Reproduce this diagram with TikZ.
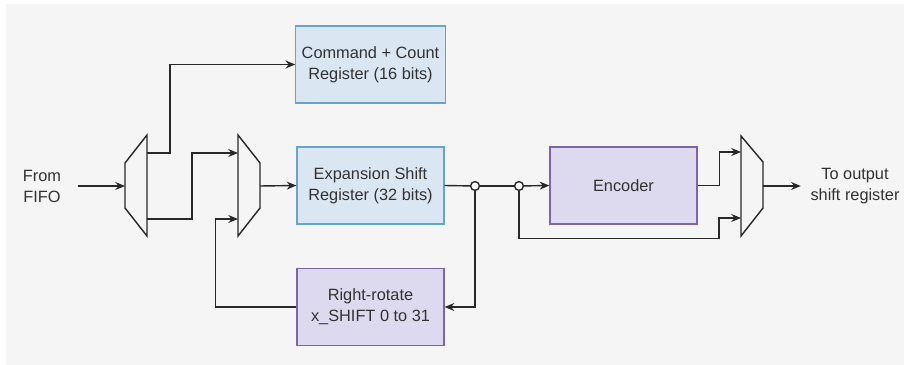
\documentclass[tikz,border=0pt]{standalone}
\usepackage{fontspec}
\setmainfont{Liberation Sans}
\usetikzlibrary{arrows.meta, positioning}
\definecolor{mybg}{RGB}{245,245,245}
\definecolor{mydark}{RGB}{40,40,40}
\definecolor{mytext}{RGB}{50,50,50}
\definecolor{myblue}{RGB}{96,166,208}
\definecolor{hdrblue}{RGB}{219,230,243}
\definecolor{mypurple}{RGB}{124,100,176}
\definecolor{hdrpurple}{RGB}{221,217,238}
\tikzset{
  block/.style={rectangle, draw=myblue, fill=hdrblue,
    minimum width=2.94cm, minimum height=1.54cm, align=center,
    font=\fontsize{9.3}{12}\selectfont, text=mytext, line width=0.7pt},
  purpleblock/.style={block, draw=mypurple, fill=hdrpurple},
  lbl/.style={align=center, font=\fontsize{9.3}{12}\selectfont, text=mytext},
  muxshape/.style={draw=mydark, fill=mybg, line width=0.8pt},
  junc/.style={circle, draw=mydark, fill=white, inner sep=0pt,
    minimum size=5pt, line width=0.8pt},
  arrow/.style={-{Stealth[length=5.5pt,width=4.5pt]}, line width=0.8pt, color=mydark},
  line/.style={line width=0.8pt, color=mydark}
}
\begin{document}
\begin{tikzpicture}[x=0.02cm, y=-0.02cm]
  \useasboundingbox (0,0) rectangle (904,365);
  \fill[white] (0,0) rectangle (904,365);
  \fill[mybg] (6,4) rectangle (904,365);

  % registers
  \node[block] (cmd) at (370.5,64.5) {Command + Count\\Register (16 bits)};
  \node[block] (exp) at (370.5,185.5) {Expansion Shift\\Register (32 bits)};
  \node[purpleblock] (rot) at (370.5,307) {Right-rotate\\x\_SHIFT 0 to 31};
  \node[purpleblock] (enc) at (623.5,185.5) {Encoder};

  \node[lbl] (fifo) at (42,186) {From\\FIFO};
  \node[lbl] (out) at (855,186) {To output\\shift register};

  % demux and muxes
  \draw[muxshape] (125,163) -- (147,135) -- (147,236) -- (125,208) -- cycle;
  \coordinate (dmxin) at (125,186);
  \coordinate (dmxtop) at (147,153);
  \coordinate (dmxbot) at (147,219);
  \draw[muxshape] (238,135) -- (260,163) -- (260,208) -- (238,236) -- cycle;
  \coordinate (mxa) at (238,153);
  \coordinate (mxb) at (238,219);
  \coordinate (mxout) at (260,186);
  \draw[muxshape] (741,136) -- (763,162) -- (763,208) -- (741,236) -- cycle;
  \coordinate (omxa) at (741,152);
  \coordinate (omxb) at (741,218);
  \coordinate (omxout) at (763,186);

  \node[junc] (j1) at (475,186) {};
  \node[junc] (j2) at (519,186) {};

  % connectors
  \draw[arrow] ([xshift=6pt]fifo.east) -- (dmxin);
  \draw[arrow] (dmxtop) -- ++(23,0) |- (cmd.west);
  \draw[arrow] (dmxbot) -- ++(45,0) |- (mxa);
  \draw[arrow] (rot.west) -- ++(-81,0) |- (mxb);
  \draw[arrow] (mxout) -- (exp.west);
  \draw[line] (exp.east) -- (j1);
  \draw[line] (j1) -- (j2);
  \draw[arrow] (j2) -- (enc.west);
  \draw[arrow] (j1) |- (rot.east);
  \draw[arrow] (j2.south) -- ++(0,47.5) -- ++(200,0) |- (omxb);
  \draw[arrow] (enc.east) -- ++(22,0) |- (omxa);
  \draw[arrow] (omxout) -- ([xshift=-2pt]out.west);
\end{tikzpicture}
\end{document}
